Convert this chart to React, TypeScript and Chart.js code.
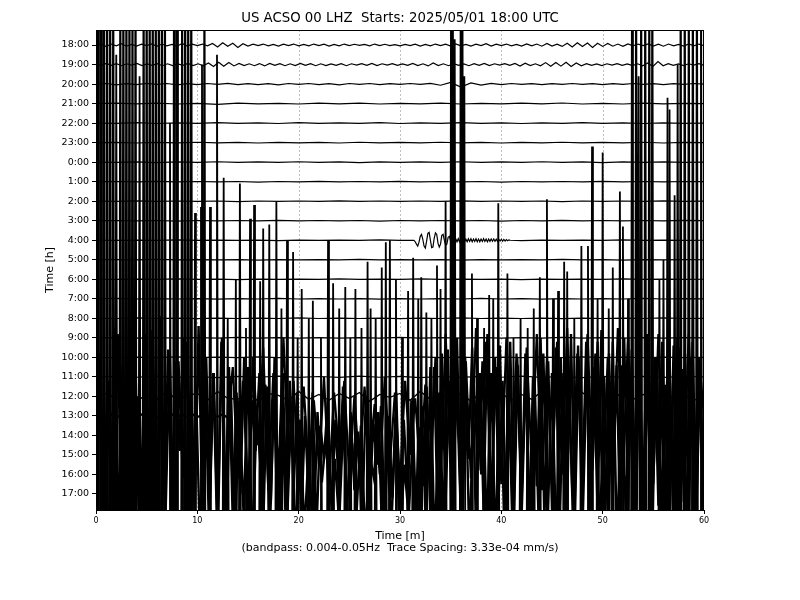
import React, { useEffect, useRef } from "react";
import { Chart, registerables } from "chart.js";

Chart.register(...registerables);

// ---------- labels ----------
const TITLE = "US ACSO 00 LHZ  Starts: 2025/05/01 18:00 UTC";
const X_TITLE = "Time [m]";
const X_SUBTITLE = "(bandpass: 0.004-0.05Hz  Trace Spacing: 3.33e-04 mm/s)";
const Y_TITLE = "Time [h]";
const HOUR_LABELS = [
  "18:00", "19:00", "20:00", "21:00", "22:00", "23:00", "0:00", "1:00", "2:00", "3:00", "4:00", "5:00",
  "6:00", "7:00", "8:00", "9:00", "10:00", "11:00", "12:00", "13:00", "14:00", "15:00", "16:00", "17:00",
];
const X_TICKS = [0, 10, 20, 30, 40, 50, 60];
const X_GRID = [10, 20, 30, 40, 50];

// ---------- trace values (hundredths of a trace spacing, evenly spread over 0-60 min) ----------
const tr1800 = [
  0, 6, -8, 5, -4, 7, -6, 3, -5, 4, -3, 6, -7, 5, -4, 3, -6, 8, -5, 4, -3,
  5, -4, 8, -10, 12, -6, 9, -12, 7, -5, 4, -3, 5, -4, 3, -5, 4, -3, 5, -4,
  3, -4, 5, -3, 4, -5, 3, -4, 5, -3, 4, -2, 3, -4, 5, -3, 4, -3, 2, -4,
  3, -3, 4, -5, 3, -4, 5, -3, 4, -5, 6, -4, 3, -5, 4, -3, 7, -5, 4, -3,
  5, -4, 3, -5, 6, -4, 5, -6, 8, -5, 4, -7, 9, -10, 12, -8, 10, -12, 9, -7,
  8, -6, 5, -7, 6, -4, 5, -3, 6, -5, 4, -6, 5, -4, 3, -5, 6, -4, 5, -3,
];
const tr1900 = [
  0, -5, 6, -4, 5, -6, 4, -3, 6, -5, 3, -4, 5, -6, 4, -5, 3, -4, 6, -5, 4,
  -6, 8, -10, 12, -9, 11, -7, 6, -5, 4, -6, 5, -7, 6, -4, 5, -6, 4, -5,
  6, -4, 5, -6, 4, -5, 3, -4, 5, -6, 4, -3, 5, -4, 6, -5, 4, -3, 5, -4,
  3, -4, 6, -5, 4, -7, 8, -5, 4, -6, 5, -4, 3, -6, 5, -4, 6, -5, 4, -3,
  5, -4, 6, -8, 7, -5, 4, -6, 10, -9, 11, -8, 12, -10, 8, -6, 5, -4, 3, -5,
  4, -3, 5, -4, 3, -5, 4, -6, 8, -10, 15, -6, 5, -4, 3, -5, 4, -3, 5, -4,
];
const tr2000 = [
  0, 3, -4, 2, -3, 4, -2, 3, -4, 2, -3, 3, -2, 4, -3, 2, -3, 2, -4, 3, -2,
  3, -3, 2, -4, 3, -2, 3, -3, 2, -2, 3, -2, 4, -6, 8, -15, 6, -5, 4, -3,
  3, -2, 2, -3, 2, -2, 3, -2, 2, -3, 2, -2, 3, -2, 2, -3, 2, -2, 3, 0,
];
const tr2100 = [0, 2, -1, 2, -2, 1, -4, 2, -1, 1, -2, 2, -1, 2, -2, 1, -1, 2, -2, 1, -1, 2, -1, 3, -2, 1, -2, 2, -1, 1, 0];
const tr2200 = [0, -1, 2, -2, 1, -1, 2, -1, 1, -2, 2, -1, 1, -1, 2, -2, 1, -1, 2, -1, 1, -2, 1, -1, 2, -1, 1, -2, 1, -1, 0];
const tr2300 = [0, 1, -2, 1, -1, 2, -1, 1, -2, 1, -1, 1, -2, 2, -1, 1, -1, 2, -1, 1, -2, 1, -1, 2, -1, 1, -1, 2, -2, 1, 0];
const tr0000 = [0, -1, 1, -2, 1, -1, 2, -1, 1, -1, 2, -1, 1, -2, 1, -1, 1, -1, 2, -1, 1, -1, 2, -1, 1, -2, 1, -1, 1, -1, 0];
const tr0100 = [0, 1, -1, 2, -1, 1, -1, 1, -2, 1, -1, 2, -1, 1, -1, 2, -1, 1, -1, 1, -2, 1, -1, 1, -1, 2, -1, 1, -1, 1, 0];
const tr0200 = [0, -1, 2, -1, 1, -1, 1, -2, 1, -1, 1, -1, 2, -1, 1, -1, 1, -1, 2, -1, 1, -1, 1, -2, 1, -1, 1, -1, 2, -1, 0];
const tr0300 = [0, 1, -1, 1, -2, 1, -1, 1, -1, 2, -1, 1, -1, 1, -2, 1, -1, 1, -1, 1, -2, 1, -1, 2, -1, 1, -1, 1, -1, 2, 0];
const tr0400 = [0, -1, 1, -1, 2, -1, 1, -1, 1, -2, 1, -1, 1, -1, 2, -1, 0, 0, 0, 0, 1, -2, 1, -1, 1, -1, 2, -1, 1, -1, 0];
// 4:00 event, samples every 0.125 min from 31.375 min
const EVENT_0400_START = 31.375;
const EVENT_0400_STEP = 0.125;
const ev0400 = [
  0, -8, -20, -30, -10, 20, 30, 5, -30, -40, -5, 35, 40, 0, -38, -35, 10, 38, 30, -15, -35, -20, 25, 30, 0,
  -25, -20, 15, 20, -5, -15, -5, 10, 8, -8, 8, -8, 8, -6, 8, -8, 6, -8, 8, -6, 8, -8, 6, -6, 8, -8, 6, -8,
  6, -6, 8, -6, 6, -8, 6, -6, 6, -5, 6, -6, 5, -6, 5, -4, 5, -5, 4, -4, 3, -3, 2, 0,
];
const tr0500 = [0, 1, -1, 2, -1, 1, -1, 1, -2, 1, -1, 1, -1, 2, -1, 1, -1, 1, -2, 1, -1, 1, -1, 2, -1, 1, -2, 1, -1, 1, 0];
const tr0600 = [0, -1, 1, -1, 2, -1, 1, -2, 1, -1, 1, -1, 2, -1, 1, -1, 2, -1, 1, -1, 1, -2, 1, -1, 1, -1, 2, -1, 1, -1, 0];
const tr0700 = [0, 2, -1, 1, -1, 1, -2, 1, -1, 2, -1, 1, -1, 1, -2, 1, -1, 1, -1, 2, -1, 1, -2, 1, -1, 1, -1, 2, -1, 1, 0];
const tr0800 = [0, -1, 2, -1, 1, -2, 1, -1, 1, -1, 2, -1, 1, -1, 1, -2, 1, -1, 2, -1, 1, -1, 1, -2, 1, -1, 1, -1, 2, -1, 0];
const tr0900 = [0, 1, -2, 1, -1, 1, -1, 2, -1, 1, -2, 1, -1, 1, -1, 2, -1, 1, -1, 1, -2, 1, -1, 2, -1, 1, -1, 1, -2, 1, 0];
const tr1000 = [0, -2, 1, -1, 2, -1, 1, -1, 2, -1, 1, -2, 1, -1, 1, -1, 2, -1, 1, -2, 1, -1, 1, -1, 2, -1, 1, -2, 1, -1, 0];
const tr1100 = [0, 3, -2, 4, -3, 2, -4, 3, -2, 4, -3, 2, -3, 4, -2, 3, -4, 2, -3, 3, -2, 4, -3, 2, -4, 3, -2, 3, -3, 2, 0];
const tr1200 = [
  0, 15, -10, 20, -25, 10, -15, 25, -20, 5, 15, -20, 25, -10, -15, 20, -25, 15, 5, -20, 25,
  -15, 10, -20, 15, -10, 20, -25, 10, -5, 15, -20, 25, -15, 10, -20, 15, -25, 20, -10, 15,
  -20, 10, -15, 25, -20, 10, -5, 20, -25, 15, -10, 20, -15, 10, -20, 25, -15, 10, -20, 0,
];
const tr1300 = [
  0, 5, -5, 8, -6, 4, -8, 6, -5, 7, -6, 5, -8, 6, -5, 7, -4, 6, -5, 8, -6, 5, -7, 6, -5, 8, -10,
  250, -320, 180, -400, 300, -150, 350, -380, 220, -300, 400, -250, 180, -350,
  150, -300, 80, -250, 200, -350, 120, -200, 180, -320, 100, -280, 150, -220, 60, -300, 200, -250, 120, -350,
  180, -200, 90, -280, 160, -300,
  300, -380, 420, -250, 350, -400, 280, -320, 450, -300, 380, -420, 250, -350, 400, -280, 320, -400, 350, -250,
  420, -380, 300, -350,
  380, -300, 450, -400, 320, -350, 420, -280, 380, -420, 300, -350, 450, -300, 400, -380, 350, -420, 300, -350,
  420, -300, 380, -400, 350, -280, 420, -350, 300, 0,
];
const tr1600 = [
  150, 620, -250, 480, -120, 750, -300, 560, 90, 680, -220, 400, -350, 720, -150, 530, -280, 810, -100, 640,
  -260, 580, 120, 700, -300, 450, -180, 760, -240, 600, -120, 520, -300, 680, -200,
  550, -250, 420, -100, 600, -300, 380, 120, 520, -280, 450, -150, 600, -220, 350, -300, 480, -100, 420,
  -250, 300, -150, 420, -300, 250, 80, 380, -200, 280, -120, 450, -260, 320, -80, 220, -300, 400, -150, 260,
  50, 350, -250, 300, -120, 420, -200, 280, -100, 380, -280, 240, -60, 450, -220,
  550, -300, 620, -150, 480, -250, 700, -200, 580, 80, 650, -300, 520, -180, 720, -260, 600, -100, 480, -300,
  680, -220, 560, -140, 620, -280, 500, -60, 700, -240, 580, -180,
  650, -300, 520, -150, 720, -250, 600, -80, 680, -300, 550, -200, 740, -260, 620, -120, 560, -300, 700, -180,
  640, -240, 580, -100, 720, -280, 600, -160, 680, -220, 540, -300, 700, -140, 620, -260, 680, -200, 560, -150,
];
const tr1700 = [
  -200, 700, -300, 580, -100, 820, -250, 640, 120, 760, -300, 520, -180, 840, -260, 600, -120, 720, -300, 680,
  80, 780, -220, 560, -300, 740, -160, 620, -280, 800, -200,
  600, -250, 480, -120, 650, -300, 420, 100, 560, -220, 500, -300, 620, -150, 460, -260,
  380, -200, 250, -300, 420, 60, 300, -250, 180, -150, 400, -280, 260, -100, 350, -220, 200, 80, 420, -300,
  280, -180, 380, -250, 150, -120, 330, -280, 450, -200,
  650, -300, 520, -150, 740, -250, 600, -100, 700, -280, 560, 120, 680, -220, 620, -300, 760, -180, 540, -260,
  700, -120, 640, -300, 580, -200, 720, -160,
  620, -280, 700, -150, 560, -300, 760, -200, 640, 80, 720, -260, 600, -180, 780, -300, 660, -120, 580, -240,
  740, -200, 620, -300, 700, -160, 560, -280, 760, -220, 640, -140, 700, -260, 600, -200,
];

// ---------- large spikes: [minute, peak in trace spacings] ----------
const spikes1400 = [
  [0.1, 18.6], [0.5, 30], [1.1, 30], [1.7, 30], [2.0, 19.5], [2.7, 30], [3.3, 30], [3.9, 30], [4.3, 18.4], [5.0, 30],
  [5.6, 30], [6.2, 30], [6.8, 30], [7.3, 16], [8.0, 30], [8.8, 30], [9.4, 30], [10.46, 19.0], [13.0, 6], [14.8, 5.5],
  [18.3, 6.5], [19.9, 5], [21.0, 6], [22.2, 5], [24.0, 6.5], [25.1, 5], [26.2, 5.5], [27.6, 6], [30.2, 5], [31.8, 7],
  [33.1, 6], [34.0, 7.5], [35.2, 30], [35.4, 20.3], [36.15, 30], [36.35, 18.4], [37.6, 6], [38.3, 5.5], [39.2, 7],
  [41.2, 5], [41.9, 6], [42.6, 5.5], [43.2, 6.5], [45.1, 7], [47.2, 6], [49.5, 7], [50.6, 6.5], [52.5, 7], [53.3, 30],
  [53.55, 18.4], [54.2, 30], [54.9, 30], [55.6, 8], [56.0, 9], [56.6, 16.7], [57.4, 19.0], [58.1, 30], [58.9, 30],
  [59.7, 30],
];
const spikes1500 = [
  [0.2, 30], [0.8, 30], [1.4, 30], [2.4, 30], [3.0, 30], [3.6, 30], [4.7, 30], [5.3, 30], [5.9, 30], [6.5, 30],
  [7.7, 30], [8.5, 30], [9.1, 30], [9.77, 12.4], [10.36, 12.7], [10.7, 30], [11.25, 12.7], [11.94, 20.5], [12.6, 14.2],
  [13.8, 9.0], [14.2, 13.9], [15.2, 12.1], [15.6, 12.8], [16.2, 8.9], [16.5, 11.6], [17.1, 11.8], [17.8, 13.0],
  [18.85, 11.0], [19.45, 10.4], [20.3, 8.5], [21.4, 7.9], [22.9, 11.0], [23.4, 8.8], [24.6, 8.6], [25.6, 8.5],
  [26.8, 9.9], [27.1, 7.5], [28.2, 9.6], [28.6, 10.9], [29.0, 11.0], [29.6, 9.0], [30.8, 8.4], [31.3, 10.1],
  [32.1, 9.1], [32.6, 7.3], [33.65, 9.7], [34.5, 13.0], [35.05, 30], [36.0, 30], [37.1, 9.3], [38.8, 8.2],
  [39.7, 12.9], [40.6, 9.3], [43.8, 9.1], [44.5, 13.1], [45.6, 8.4], [46.2, 9.9], [46.5, 9.4], [47.9, 10.7],
  [48.55, 10.7], [48.95, 15.8], [50.0, 15.5], [51.0, 9.6], [51.7, 13.5], [52.0, 11.7], [52.9, 30], [53.8, 30],
  [54.6, 30], [56.4, 18.3], [57.1, 13.3], [57.7, 30], [58.5, 30], [59.3, 30],
];
const SPIKE_BASE_1400 = -4;
const SPIKE_BASE_1500 = -3;

type Pt = { x: number; y: number };

function evenSeries(vals: number[]): Pt[] {
  const n = vals.length;
  return vals.map((v, k) => ({ x: (k * 60) / (n - 1), y: v / 100 }));
}

function spikeSeries(spikes: number[][], base: number): Pt[] {
  const half = 0.09;
  const pts: Pt[] = [{ x: 0, y: base }];
  spikes.forEach(([t, a]) => {
    pts.push({ x: Math.max(0, t - half), y: base });
    pts.push({ x: t, y: a });
    pts.push({ x: Math.min(60, t + half), y: base });
  });
  pts.push({ x: 60, y: base });
  return pts;
}

function eventSeries(baseVals: number[], start: number, step: number, ev: number[]): Pt[] {
  const end = start + step * (ev.length - 1);
  const base = evenSeries(baseVals);
  const before = base.filter((p) => p.x < start);
  const after = base.filter((p) => p.x > end);
  const mid = ev.map((v, k) => ({ x: start + k * step, y: v / 100 }));
  return [...before, ...mid, ...after];
}

const TRACES: { pts: Pt[]; width: number }[] = [
  { pts: evenSeries(tr1800), width: 1.2 },
  { pts: evenSeries(tr1900), width: 1.2 },
  { pts: evenSeries(tr2000), width: 1.2 },
  { pts: evenSeries(tr2100), width: 1.2 },
  { pts: evenSeries(tr2200), width: 1.2 },
  { pts: evenSeries(tr2300), width: 1.2 },
  { pts: evenSeries(tr0000), width: 1.2 },
  { pts: evenSeries(tr0100), width: 1.2 },
  { pts: evenSeries(tr0200), width: 1.2 },
  { pts: evenSeries(tr0300), width: 1.2 },
  { pts: eventSeries(tr0400, EVENT_0400_START, EVENT_0400_STEP, ev0400), width: 1.2 },
  { pts: evenSeries(tr0500), width: 1.2 },
  { pts: evenSeries(tr0600), width: 1.2 },
  { pts: evenSeries(tr0700), width: 1.2 },
  { pts: evenSeries(tr0800), width: 1.2 },
  { pts: evenSeries(tr0900), width: 1.2 },
  { pts: evenSeries(tr1000), width: 1.2 },
  { pts: evenSeries(tr1100), width: 1.2 },
  { pts: evenSeries(tr1200), width: 1.4 },
  { pts: evenSeries(tr1300), width: 2.2 },
  { pts: spikeSeries(spikes1400, SPIKE_BASE_1400), width: 1.8 },
  { pts: spikeSeries(spikes1500, SPIKE_BASE_1500), width: 1.8 },
  { pts: evenSeries(tr1600), width: 2.4 },
  { pts: evenSeries(tr1700), width: 2.4 },
];

const FONT = "'DejaVu Sans', sans-serif";

const decor = {
  id: "decor",
  beforeDraw(chart: any) {
    const ctx = chart.ctx;
    ctx.save();
    ctx.fillStyle = "#ffffff";
    ctx.fillRect(0, 0, chart.width, chart.height);
    ctx.restore();
  },
  beforeDatasetsDraw(chart: any) {
    const { ctx, chartArea } = chart;
    const xs = chart.scales.x;
    ctx.save();
    ctx.strokeStyle = "#b0b0b0";
    ctx.lineWidth = 0.8;
    ctx.setLineDash([2, 2]);
    X_GRID.forEach((v) => {
      const px = Math.round(xs.getPixelForValue(v)) + 0.5;
      ctx.beginPath();
      ctx.moveTo(px, chartArea.top);
      ctx.lineTo(px, chartArea.bottom);
      ctx.stroke();
    });
    ctx.restore();
  },
  afterDatasetsDraw(chart: any) {
    const { ctx, chartArea } = chart;
    ctx.save();
    ctx.strokeStyle = "#000";
    ctx.lineWidth = 1;
    ctx.strokeRect(
      Math.round(chartArea.left) + 0.5,
      Math.round(chartArea.top) + 0.5,
      Math.round(chartArea.right - chartArea.left) - 1,
      Math.round(chartArea.bottom - chartArea.top)
    );
    ctx.restore();
  },
  afterDraw(chart: any) {
    const { ctx, chartArea } = chart;
    const cx = (chartArea.left + chartArea.right) / 2;
    const cy = (chartArea.top + chartArea.bottom) / 2;
    ctx.save();
    ctx.fillStyle = "#000";
    ctx.textAlign = "center";
    ctx.textBaseline = "middle";
    ctx.font = `13.3px ${FONT}`;
    ctx.fillText(TITLE, cx, 19);
    ctx.font = `11px ${FONT}`;
    ctx.fillText(X_TITLE, cx, 536);
    ctx.fillText(X_SUBTITLE, cx, 548);
    ctx.translate(50, cy);
    ctx.rotate(-Math.PI / 2);
    ctx.fillText(Y_TITLE, 0, 0);
    ctx.restore();
  },
};

export default function App() {
  const ref = useRef<HTMLCanvasElement | null>(null);

  useEffect(() => {
    if (!ref.current) return;
    const datasets = TRACES.map((tr, i) => ({
      label: HOUR_LABELS[i],
      data: tr.pts.map((p) => ({ x: p.x, y: p.y - i })),
      borderColor: "#000000",
      borderWidth: tr.width,
      pointRadius: 0,
      tension: 0,
      fill: false,
      clip: 0,
    }));

    const chart = new Chart(ref.current, {
      type: "line",
      data: { datasets },
      plugins: [decor],
      options: {
        animation: false,
        responsive: false,
        devicePixelRatio: 1,
        events: [],
        parsing: false,
        normalized: true,
        layout: { padding: { left: 0, right: 96, top: 30, bottom: 0 } },
        plugins: {
          legend: { display: false },
          title: { display: false },
          tooltip: { enabled: false },
        },
        scales: {
          x: {
            type: "linear",
            min: 0,
            max: 60,
            afterFit: (s: any) => {
              s.height = 90;
            },
            afterBuildTicks: (s: any) => {
              s.ticks = X_TICKS.map((v) => ({ value: v }));
            },
            ticks: {
              color: "#000",
              font: { family: FONT, size: 8 },
              padding: 2,
              maxRotation: 0,
              autoSkip: false,
              callback: (v: any) => String(v),
            },
            grid: { drawOnChartArea: false, drawTicks: true, tickLength: 4, tickColor: "#000" },
            border: { display: false },
          },
          y: {
            type: "linear",
            min: -23.82,
            max: 0.77,
            afterFit: (s: any) => {
              s.width = 96;
            },
            afterBuildTicks: (s: any) => {
              s.ticks = HOUR_LABELS.map((_, i) => ({ value: -i }));
            },
            ticks: {
              color: "#000",
              font: { family: FONT, size: 9.5 },
              padding: 3,
              autoSkip: false,
              callback: (v: any) => HOUR_LABELS[Math.round(-v)] ?? "",
            },
            grid: { drawOnChartArea: false, drawTicks: true, tickLength: 4, tickColor: "#000" },
            border: { display: false },
          },
        },
      },
    } as any);

    return () => chart.destroy();
  }, []);

  return (
    <div style={{ position: "absolute", left: 0, top: 0, width: 800, height: 600, background: "#fff" }}>
      <canvas ref={ref} width={800} height={600} style={{ display: "block", width: 800, height: 600 }} />
    </div>
  );
}
